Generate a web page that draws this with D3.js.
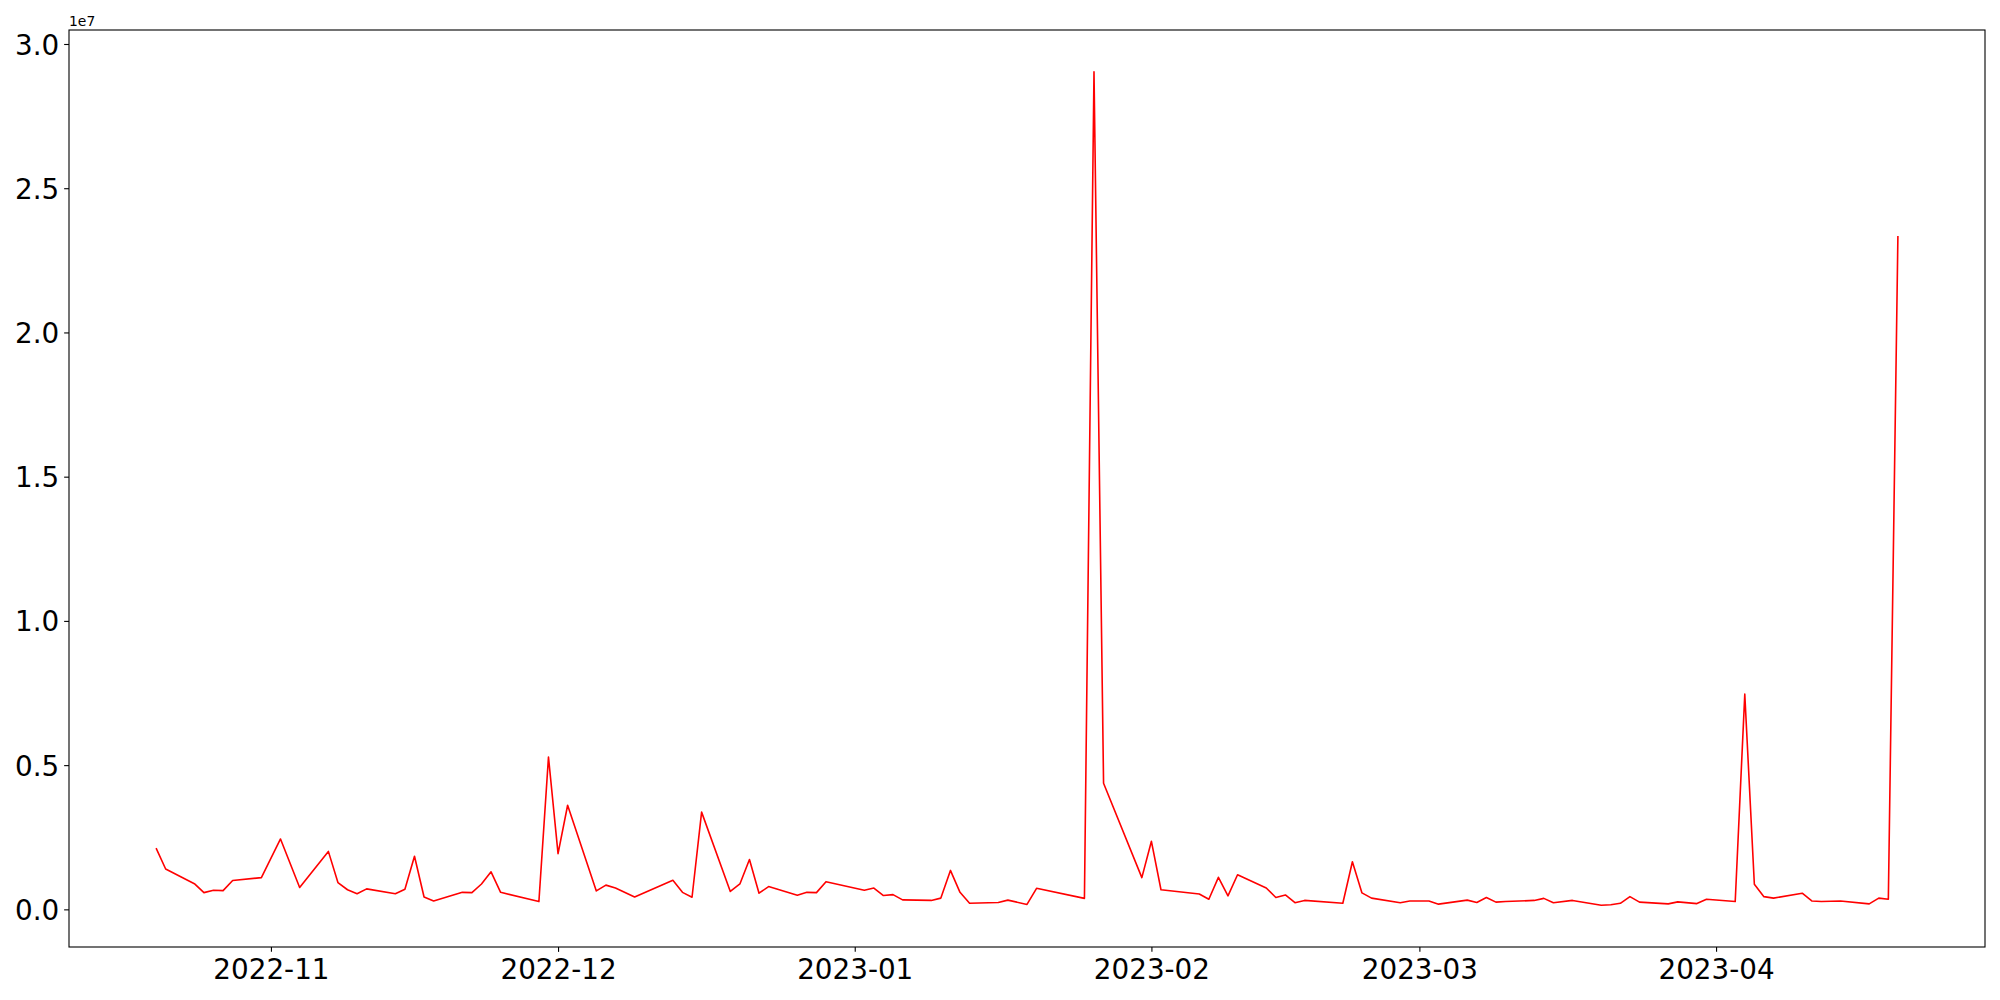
<!DOCTYPE html>
<html>
<head>
<meta charset="utf-8">
<script src="https://cdn.jsdelivr.net/npm/d3@7"></script>
<style>
  html, body { margin: 0; padding: 0; background: #fff; }
  svg { display: block; font-family: "DejaVu Sans", sans-serif; }
</style>
</head>
<body>
<svg id="chart" width="2000" height="1000"></svg>
<script>
// ---- data (values in units of 1e6) ----
const dates = [
  "2022-10-20","2022-10-21","2022-10-24","2022-10-25","2022-10-26","2022-10-27","2022-10-28","2022-10-31",
  "2022-11-02","2022-11-04","2022-11-07","2022-11-08","2022-11-09","2022-11-10","2022-11-11","2022-11-14",
  "2022-11-15","2022-11-16","2022-11-17","2022-11-18","2022-11-21","2022-11-22","2022-11-23","2022-11-24",
  "2022-11-25","2022-11-29","2022-11-30",
  "2022-12-01","2022-12-02","2022-12-05","2022-12-06","2022-12-07","2022-12-09","2022-12-13","2022-12-14",
  "2022-12-15","2022-12-16","2022-12-19","2022-12-20","2022-12-21","2022-12-22","2022-12-23","2022-12-26",
  "2022-12-27","2022-12-28","2022-12-29",
  "2023-01-02","2023-01-03","2023-01-04","2023-01-05","2023-01-06","2023-01-09","2023-01-10","2023-01-11",
  "2023-01-12","2023-01-13","2023-01-16","2023-01-17","2023-01-19","2023-01-20","2023-01-25","2023-01-26",
  "2023-01-27","2023-01-31",
  "2023-02-01","2023-02-02","2023-02-06","2023-02-07","2023-02-08","2023-02-09","2023-02-10","2023-02-13",
  "2023-02-14","2023-02-15","2023-02-16","2023-02-17","2023-02-21","2023-02-22","2023-02-23","2023-02-24",
  "2023-02-27","2023-02-28",
  "2023-03-02","2023-03-03","2023-03-06","2023-03-07","2023-03-08","2023-03-09","2023-03-10","2023-03-13",
  "2023-03-14","2023-03-15","2023-03-17","2023-03-20","2023-03-21","2023-03-22","2023-03-23","2023-03-24",
  "2023-03-27","2023-03-28","2023-03-30","2023-03-31",
  "2023-04-03","2023-04-04","2023-04-05","2023-04-06","2023-04-07","2023-04-10","2023-04-11","2023-04-12",
  "2023-04-14","2023-04-17","2023-04-18","2023-04-19","2023-04-20"
];
const valuesMillions = [
  2.12,1.40,0.89,0.58,0.66,0.65,1.00,1.10,
  2.44,0.76,2.01,0.93,0.68,0.54,0.71,0.54,
  0.70,1.84,0.43,0.29,0.59,0.58,0.88,1.30,
  0.59,0.27,5.28,
  1.93,3.61,0.64,0.84,0.74,0.43,1.01,0.59,
  0.42,3.37,0.62,0.88,1.73,0.56,0.79,0.49,
  0.59,0.58,0.96,
  0.66,0.74,0.48,0.51,0.33,0.31,0.39,1.35,
  0.59,0.21,0.24,0.32,0.17,0.73,0.38,29.04,
  4.37,1.10,
  2.36,0.68,0.53,0.35,1.11,0.47,1.20,0.74,
  0.41,0.50,0.23,0.31,0.21,1.65,0.57,0.39,
  0.23,0.29,
  0.29,0.18,0.32,0.24,0.41,0.25,0.27,0.31,
  0.38,0.23,0.31,0.14,0.16,0.21,0.44,0.25,
  0.19,0.26,0.20,0.35,
  0.27,7.46,0.87,0.44,0.39,0.56,0.29,0.27,
  0.29,0.19,0.39,0.35,23.34
];
const yTickValues = [0, 5e6, 10e6, 15e6, 20e6, 25e6, 30e6];
const yTickLabels = ["0.0","0.5","1.0","1.5","2.0","2.5","3.0"];
const xTickValues = ["2022-11-01","2022-12-01","2023-01-01","2023-02-01","2023-03-01","2023-04-01"];
const xTickLabels = ["2022-11","2022-12","2023-01","2023-02","2023-03","2023-04"];
const offsetLabel = "1e7";

// ---- layout ----
const margin = {left: 69, top: 30, right: 15, bottom: 53};
const W = 2000, H = 1000;
const iw = W - margin.left - margin.right;
const ih = H - margin.top - margin.bottom;

const parse = d3.utcParse("%Y-%m-%d");
const data = dates.map((d, i) => ({date: parse(d), value: valuesMillions[i] * 1e6}));

const xExt = d3.extent(data, d => +d.date);
const xPad = (xExt[1] - xExt[0]) * 0.05;
const x = d3.scaleUtc().domain([new Date(xExt[0] - xPad), new Date(xExt[1] + xPad)]).range([0, iw]);

const yExt = d3.extent(data, d => d.value);
const yPad = (yExt[1] - yExt[0]) * 0.05;
const y = d3.scaleLinear().domain([yExt[0] - yPad, yExt[1] + yPad]).range([ih, 0]);

const svg = d3.select("#chart");
const g = svg.append("g").attr("transform", `translate(${margin.left},${margin.top})`);

const tickLen = 4.86, tickPad = 4.86, fs = 27.8;

// line
const line = d3.line().x(d => x(d.date)).y(d => y(d.value));
g.append("path").datum(data)
  .attr("d", line)
  .attr("fill", "none")
  .attr("stroke", "#ff0000")
  .attr("stroke-width", 1.6)
  .attr("stroke-linejoin", "round");

// y axis
const yAxis = d3.axisLeft(y).tickValues(yTickValues)
  .tickFormat((d, i) => yTickLabels[i]).tickSize(tickLen).tickPadding(tickPad);
const yg = g.append("g").call(yAxis);
yg.select(".domain").remove();
yg.selectAll("line").attr("stroke", "#000").attr("stroke-width", 1.1);
yg.selectAll("text").attr("font-size", fs).attr("font-family", "DejaVu Sans").attr("fill", "#000").attr("dy", "0.36em");

// x axis
const xAxis = d3.axisBottom(x).tickValues(xTickValues.map(parse))
  .tickFormat((d, i) => xTickLabels[i]).tickSize(tickLen).tickPadding(tickPad);
const xg = g.append("g").attr("transform", `translate(0,${ih})`).call(xAxis);
xg.select(".domain").remove();
xg.selectAll("line").attr("stroke", "#000").attr("stroke-width", 1.1);
xg.selectAll("text").attr("font-size", fs).attr("font-family", "DejaVu Sans").attr("fill", "#000").attr("dy", "0.8em");

// frame
g.append("rect").attr("x", 0).attr("y", 0).attr("width", iw).attr("height", ih)
  .attr("fill", "none").attr("stroke", "#000").attr("stroke-width", 1.1);

// offset text
svg.append("text").attr("x", margin.left).attr("y", margin.top - 4)
  .attr("font-size", 13.9).attr("font-family", "DejaVu Sans").attr("fill", "#000")
  .text(offsetLabel);
</script>
</body>
</html>
